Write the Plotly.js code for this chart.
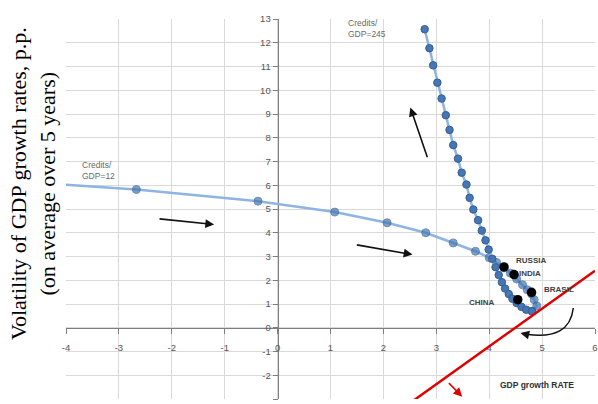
<!DOCTYPE html>
<html>
<head>
<meta charset="utf-8">
<script src="https://cdn.plot.ly/plotly-3.0.1.min.js"></script>
<style>html,body{margin:0;padding:0;background:#fff;}#chart{width:598px;height:404px;}</style>
</head>
<body>
<div id="chart"></div>
<script>
// Low-credit path (Credits/GDP=12)
var lowX = [-4.00, -2.67, -0.37, 1.08, 2.07, 2.80, 3.32, 3.74, 4.00, 4.14, 4.28, 4.40, 4.52, 4.63, 4.72, 4.80, 4.85, 4.90, 4.81];
var lowY = [6.02, 5.82, 5.33, 4.87, 4.42, 4.00, 3.57, 3.22, 2.95, 2.75, 2.52, 2.30, 2.05, 1.81, 1.60, 1.42, 1.18, 0.92, 0.70];
// High-credit path (Credits/GDP=245)
var highX = [2.78, 2.87, 2.94, 3.02, 3.10, 3.18, 3.25, 3.32, 3.41, 3.48, 3.57, 3.63, 3.70, 3.79, 3.86, 3.93, 3.99, 4.06, 4.12, 4.18, 4.24, 4.30, 4.37, 4.44, 4.52, 4.61, 4.70, 4.81];
var highY = [12.57, 11.77, 11.05, 10.32, 9.65, 8.95, 8.33, 7.69, 7.12, 6.53, 6.03, 5.47, 4.98, 4.53, 4.09, 3.68, 3.29, 2.90, 2.55, 2.22, 1.92, 1.65, 1.42, 1.22, 1.04, 0.88, 0.76, 0.69];
// Countries
var countries = ["RUSSIA", "INDIA", "BRASIL", "CHINA"];
var countryX = [4.28, 4.47, 4.80, 4.54];
var countryY = [2.56, 2.24, 1.49, 1.18];
// Red frontier line
var redX = [2.56, 6.00];
var redY = [-3.08, 2.40];
// Axis ticks
var xTicks = [-4, -3, -2, -1, 0, 1, 2, 3, 4, 5, 6];
var yTicks = [-3, -2, -1, 0, 1, 2, 3, 4, 5, 6, 7, 8, 9, 10, 11, 12, 13];

var lineCol = '#8db4e2', markCol = '#4677b4', markEdge = '#335f93';
var lowSizes = lowX.map(function(v, i){ return i === 0 ? 0 : 8; });

var traces = [
  {x: lowX, y: lowY, mode: 'lines+markers', line: {color: lineCol, width: 2.5},
   marker: {color: markCol, size: lowSizes, line: {color: markEdge, width: 1}}, cliponaxis: true, hoverinfo: 'none'},
  {x: highX, y: highY, mode: 'lines+markers', line: {color: lineCol, width: 2.5},
   marker: {color: markCol, size: 7.5, line: {color: markEdge, width: 1}}, hoverinfo: 'none'},
  {x: redX, y: redY, mode: 'lines', line: {color: '#e00000', width: 2.5}, hoverinfo: 'none'},
  {x: countryX, y: countryY, mode: 'markers', marker: {color: '#000', size: 9.5}, text: countries, hoverinfo: 'none'}
];

var tickFont = {family: 'Liberation Sans, Arial, sans-serif', size: 9.5, color: '#555555'};
var lblFont = {family: 'Liberation Sans, Arial, sans-serif', size: 8, color: '#404040'};

function arrow(x, y, ax, ay, col) {
  return {x: x, y: y, ax: ax, ay: ay, xref: 'x', yref: 'y', axref: 'x', ayref: 'y',
          text: '', showarrow: true, arrowhead: 2, arrowsize: 1.1, arrowwidth: 1.6, arrowcolor: col};
}

var annotations = [
  {x: -3.74, y: 6.62, xref: 'x', yref: 'y', xanchor: 'left', yanchor: 'middle', align: 'left', showarrow: false,
   text: 'Credits/<br>GDP=12', font: {family: 'Liberation Sans, Arial, sans-serif', size: 8.5, color: '#6a6a6a'}},
  {x: 1.29, y: 12.6, xref: 'x', yref: 'y', xanchor: 'left', yanchor: 'middle', align: 'left', showarrow: false,
   text: 'Credits/<br>GDP=245', font: {family: 'Liberation Sans, Arial, sans-serif', size: 8.5, color: '#6a6a6a'}},
  {x: 4.46, y: 2.83, xref: 'x', yref: 'y', xanchor: 'left', yanchor: 'middle', showarrow: false,
   text: '<b>' + countries[0] + '</b>', font: lblFont},
  {x: 4.52, y: 2.30, xref: 'x', yref: 'y', xanchor: 'left', yanchor: 'middle', showarrow: false,
   text: '<b>' + countries[1] + '</b>', font: lblFont},
  {x: 5.00, y: 1.60, xref: 'x', yref: 'y', xanchor: 'left', yanchor: 'middle', showarrow: false,
   text: '<b>' + countries[2] + '</b>', font: lblFont},
  {x: 4.15, y: 1.07, xref: 'x', yref: 'y', xanchor: 'right', yanchor: 'middle', showarrow: false,
   text: '<b>' + countries[3] + '</b>', font: lblFont},
  {x: 4.90, y: -2.42, xref: 'x', yref: 'y', xanchor: 'center', yanchor: 'middle', showarrow: false,
   text: '<b>GDP growth RATE</b>', font: {family: 'Liberation Sans, Arial, sans-serif', size: 8.5, color: '#303030'}},
  {x: -0.062, y: 0.566, xref: 'paper', yref: 'paper', xanchor: 'center', yanchor: 'middle', showarrow: false,
   textangle: -90, text: 'Volatility of GDP growth rates, p.p.<br>(on average over 5 years)',
   font: {family: 'Liberation Serif, Times New Roman, serif', size: 22, color: '#000'}},
  arrow(-1.20, 4.35, -2.26, 4.59, '#111'),
  arrow(2.55, 3.08, 1.47, 3.50, '#111'),
  arrow(2.51, 9.27, 2.84, 7.12, '#111'),
  arrow(3.49, -2.90, 3.21, -2.27, '#e00000'),
  arrow(4.59, -0.22, 4.76, -0.31, '#111')
];

var shapes = [
  {type: 'path', xref: 'x', yref: 'y', path: 'M 5.59,0.83 Q 5.52,-0.55 4.70,-0.27',
   line: {color: '#111', width: 1.5}, fillcolor: 'rgba(0,0,0,0)'}
];

var layout = {
  width: 598, height: 404,
  margin: {l: 66, r: 3, t: 19, b: 5, pad: 0},
  paper_bgcolor: '#fff', plot_bgcolor: '#fff',
  showlegend: false,
  font: tickFont,
  xaxis: {range: [-4, 6], tickvals: xTicks, ticktext: xTicks.map(String), showgrid: true, gridcolor: '#d9d9d9', gridwidth: 1,
          zeroline: false, showline: true, linecolor: '#7f7f7f', linewidth: 1.5, anchor: 'free', position: 3/16,
          ticks: 'outside', ticklen: 5, tickcolor: '#7f7f7f', tickfont: tickFont, ticklabelstandoff: 5, layer: 'below traces', fixedrange: true},
  yaxis: {range: [-3, 13], tickvals: yTicks, ticktext: yTicks.map(String), showgrid: true, gridcolor: '#d9d9d9', gridwidth: 1,
          zeroline: false, showline: true, linecolor: '#7f7f7f', linewidth: 1.5, anchor: 'free', position: 0.4,
          ticks: 'outside', ticklen: 5, tickcolor: '#7f7f7f', tickfont: tickFont, layer: 'below traces', fixedrange: true},
  annotations: annotations,
  shapes: shapes
};

Plotly.newPlot('chart', traces, layout, {displayModeBar: false, staticPlot: true});
</script>
</body>
</html>
